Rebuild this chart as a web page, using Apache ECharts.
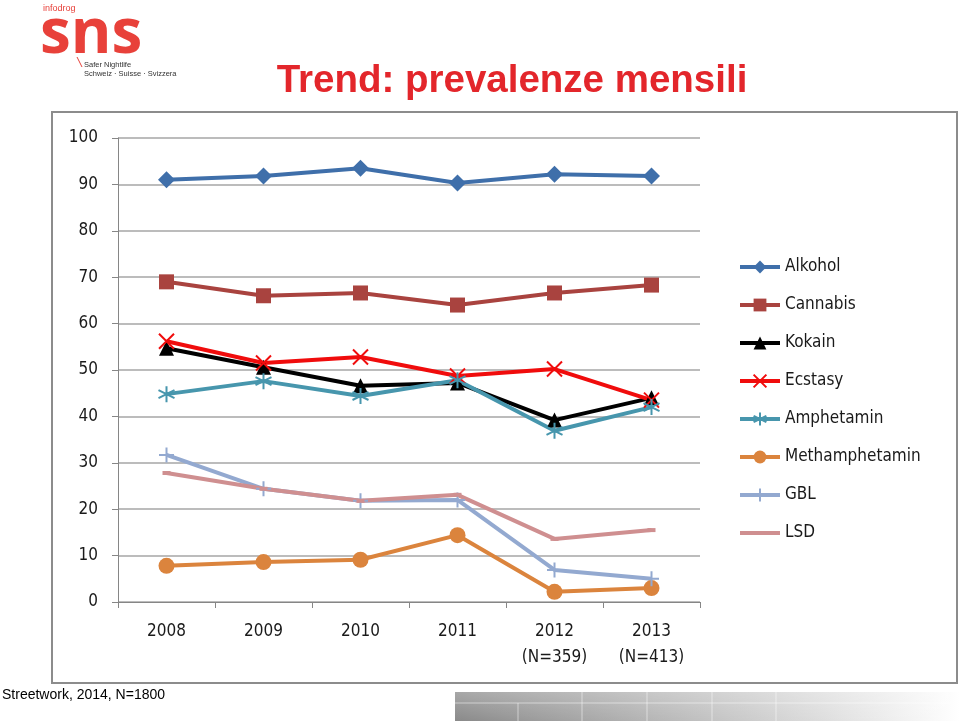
<!DOCTYPE html>
<html>
<head>
<meta charset="utf-8">
<script src="https://cdn.jsdelivr.net/npm/echarts@6/dist/echarts.min.js"></script>
<style>
html, body { margin: 0; padding: 0; background: #fff; }
#chart { width: 960px; height: 721px; }
</style>
</head>
<body>
<div id="chart"></div>
<script>
const years = ['2008', '2009', '2010', '2011', '2012\n(N=359)', '2013\n(N=413)']
const yTicks = [0, 10, 20, 30, 40, 50, 60, 70, 80, 90, 100]

const alkohol = [91, 91.8, 93.5, 90.3, 92.2, 91.8]
const cannabis = [69, 66, 66.6, 64, 66.6, 68.3]
const kokain = [54.7, 50.6, 46.6, 47.2, 39.2, 44]
const ecstasy = [56.2, 51.5, 52.8, 48.7, 50.2, 43.5]
const amphetamin = [44.8, 47.6, 44.4, 47.8, 36.9, 42]
const methamphetamin = [7.8, 8.6, 9.1, 14.4, 2.2, 3]
const gbl = [31.7, 24.4, 21.8, 22, 6.9, 5]
const lsd = [27.8, 24.4, 21.8, 23.1, 13.6, 15.5]

const labelFont = '"DejaVu Sans Condensed", "Open Sans", sans-serif'

// stroke-only markers
const crossPath = 'path://M0,0L10,10M10,0L0,10'
const starPath = 'path://M5,0L5,10M0,2.5L10,7.5M10,2.5L0,7.5'
const plusPath = 'path://M0,5L10,5M5,0L5,10'

function lineSeries(name, data, color, symbol, size, stroked) {
  return {
    name: name,
    type: 'line',
    data: data,
    symbol: symbol,
    symbolSize: size,
    showAllSymbol: true,
    lineStyle: { color: color, width: 4 },
    itemStyle: stroked
      ? { color: color, borderColor: color, borderWidth: 2 }
      : { color: color },
    emphasis: { disabled: true },
    z: 3
  }
}

const chart = echarts.init(document.getElementById('chart'))
const option = {
  animation: false,
  backgroundColor: '#fff',
  title: {
    text: 'Trend: prevalenze mensili',
    left: 507,
    top: 57,
    textAlign: 'center',
    textStyle: {
      color: '#e3262b',
      fontSize: 38.5,
      fontWeight: 'bold',
      fontFamily: '"Liberation Sans", Arial, sans-serif'
    }
  },
  legend: {
    orient: 'vertical',
    left: 733,
    top: 252,
    itemWidth: 40,
    itemHeight: 16,
    itemGap: 18,
    lineStyle: { width: 4 },
    textStyle: {
      color: '#1a1a1a',
      fontSize: 17,
      lineHeight: 20,
      fontFamily: labelFont
    },
    data: [
      'Alkohol', 'Cannabis', 'Kokain', 'Ecstasy', 'Amphetamin', 'Methamphetamin', 'GBL',
      { name: 'LSD', itemStyle: { opacity: 0 } }
    ]
  },
  grid: { left: 118, right: 260, top: 138, bottom: 119 },
  xAxis: {
    type: 'category',
    data: years,
    boundaryGap: true,
    axisLine: { lineStyle: { color: '#868686', width: 1 } },
    axisTick: { show: true, length: 6, lineStyle: { color: '#868686' } },
    axisLabel: {
      color: '#1a1a1a',
      fontSize: 17,
      lineHeight: 26,
      margin: 17,
      fontFamily: labelFont
    }
  },
  yAxis: {
    type: 'value',
    min: yTicks[0],
    max: yTicks[yTicks.length - 1],
    interval: 10,
    axisLine: { show: true, lineStyle: { color: '#868686', width: 1 } },
    axisTick: { show: true, length: 6, lineStyle: { color: '#868686' } },
    splitLine: { lineStyle: { color: '#a6a6a6', width: 1.5 } },
    axisLabel: {
      color: '#1a1a1a',
      fontSize: 17,
      margin: 20,
      fontFamily: labelFont
    }
  },
  series: [
    lineSeries('Alkohol', alkohol, '#3f6faa', 'diamond', 17),
    lineSeries('Cannabis', cannabis, '#a9433f', 'rect', 15),
    lineSeries('Kokain', kokain, '#000000', 'triangle', 15),
    lineSeries('Ecstasy', ecstasy, '#f00c0c', crossPath, 15, true),
    lineSeries('Amphetamin', amphetamin, '#4796ad', starPath, 16, true),
    lineSeries('Methamphetamin', methamphetamin, '#db843d', 'circle', 16),
    lineSeries('GBL', gbl, '#93a9d0', plusPath, 15, true),
    lineSeries('LSD', lsd, '#cf8f90', 'rect', [8, 4])
  ],
  graphic: [
    // frame around the chart
    {
      type: 'rect',
      shape: { x: 52, y: 112, width: 905, height: 571 },
      style: { fill: 'none', stroke: '#8c8c8c', lineWidth: 2 },
      z: 0
    },
    // logo
    {
      type: 'text',
      left: 43, top: 4,
      style: { text: 'infodrog', fill: '#e8413a', font: '9px "Liberation Sans", sans-serif' }
    },
    {
      type: 'text',
      left: 40, top: 4,
      style: { text: 'sns', fill: '#e8413a', font: 'bold 62px "Open Sans", "DejaVu Sans", sans-serif' }
    },
    {
      type: 'line',
      shape: { x1: 77, y1: 57, x2: 82, y2: 67 },
      style: { stroke: '#e8413a', lineWidth: 1 }
    },
    {
      type: 'text',
      left: 84, top: 61,
      style: { text: 'Safer Nightlife', fill: '#333', font: '7.5px "Liberation Sans", sans-serif' }
    },
    {
      type: 'text',
      left: 84, top: 70,
      style: { text: 'Schweiz · Suisse · Svizzera', fill: '#333', font: '7.5px "Liberation Sans", sans-serif' }
    },
    // footer
    {
      type: 'text',
      left: 2, top: 688,
      style: { text: 'Streetwork, 2014, N=1800', fill: '#000', font: '14px "Liberation Sans", Arial, sans-serif' }
    },
    {
      type: 'rect',
      shape: { x: 455, y: 692, width: 505, height: 29 },
      style: {
        fill: new echarts.graphic.LinearGradient(0, 0, 1, 0, [
          { offset: 0, color: '#8a8a8a' },
          { offset: 0.55, color: '#c8c8c8' },
          { offset: 1, color: '#ffffff' }
        ])
      }
    },
    {
      type: 'rect',
      shape: { x: 455, y: 692, width: 505, height: 29 },
      style: {
        fill: new echarts.graphic.LinearGradient(0, 0, 0, 1, [
          { offset: 0, color: 'rgba(255,255,255,0.25)' },
          { offset: 1, color: 'rgba(255,255,255,0)' }
        ])
      }
    },
    {
      type: 'line',
      shape: { x1: 455, y1: 703, x2: 960, y2: 703 },
      style: { stroke: 'rgba(255,255,255,0.5)', lineWidth: 1 }
    },
    {
      type: 'line',
      shape: { x1: 518, y1: 703, x2: 518, y2: 721 },
      style: { stroke: 'rgba(255,255,255,0.5)', lineWidth: 1 }
    },
    {
      type: 'line',
      shape: { x1: 582, y1: 692, x2: 582, y2: 721 },
      style: { stroke: 'rgba(255,255,255,0.5)', lineWidth: 1 }
    },
    {
      type: 'line',
      shape: { x1: 647, y1: 692, x2: 647, y2: 721 },
      style: { stroke: 'rgba(255,255,255,0.5)', lineWidth: 1 }
    },
    {
      type: 'line',
      shape: { x1: 712, y1: 692, x2: 712, y2: 721 },
      style: { stroke: 'rgba(255,255,255,0.5)', lineWidth: 1 }
    },
    {
      type: 'line',
      shape: { x1: 776, y1: 692, x2: 776, y2: 721 },
      style: { stroke: 'rgba(255,255,255,0.5)', lineWidth: 1 }
    }
  ]
}
chart.setOption(option)
</script>
</body>
</html>
